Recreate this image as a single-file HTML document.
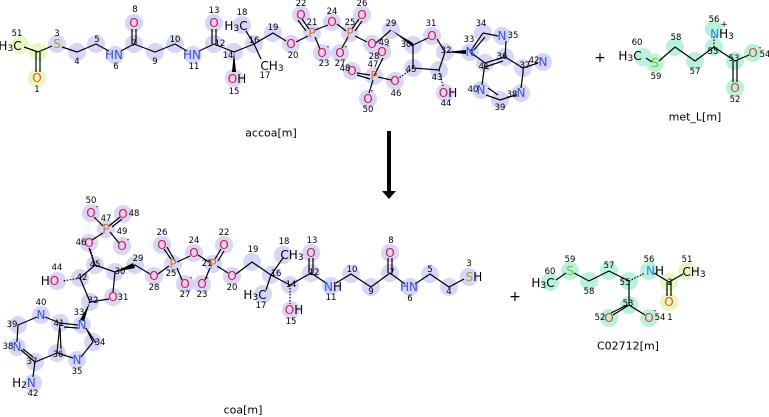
<!DOCTYPE html>
<html><head><meta charset="utf-8"><style>
body{margin:0;background:#fff;}
svg{display:block;font-family:"DejaVu Sans","Liberation Sans",sans-serif;}
.h{fill:#d6d6f8}.g{fill:#b6f3da}.y{fill:#e6f7c0}
text{dominant-baseline:central;text-anchor:middle}
.e{font-size:12px;fill:#000}.O{font-size:12px;fill:#e8103c}.N{font-size:12px;fill:#3050f8}.S{font-size:12px;fill:#a8a030}.P{font-size:12px;fill:#e07018}
.n{font-size:8.5px;fill:#000}
.b{stroke:#000;stroke-width:1.2;fill:none}
.lbl{font-size:11px;fill:#000}
</style></head><body>
<svg width="769" height="417" viewBox="0 0 769 417">
<g>
<circle class="y" cx="20" cy="45" r="9"/><circle class="y" cx="38" cy="52" r="9"/><circle class="y" cx="37" cy="78" r="9"/>
<circle class="h" cx="57" cy="44" r="9"/><circle class="h" cx="77" cy="52" r="9"/><circle class="h" cx="96" cy="44" r="9"/>
<circle class="h" cx="115" cy="55" r="9"/><circle class="h" cx="134" cy="44" r="9"/><circle class="h" cx="134" cy="23" r="9"/>
<circle class="h" cx="155" cy="52" r="9"/><circle class="h" cx="175" cy="44" r="9"/><circle class="h" cx="193" cy="55" r="9"/>
<circle class="h" cx="214" cy="44" r="9"/><circle class="h" cx="214" cy="23" r="9"/><circle class="h" cx="234" cy="52" r="9"/>
<circle class="h" cx="234" cy="78" r="9"/><circle class="h" cx="254" cy="44" r="9"/><circle class="h" cx="242" cy="25" r="9"/>
<circle class="h" cx="273" cy="33" r="9"/><circle class="h" cx="291" cy="44" r="9"/><circle class="h" cx="301" cy="15" r="9"/>
<circle class="h" cx="312" cy="33" r="9"/><circle class="h" cx="322" cy="53" r="9"/><circle class="h" cx="332" cy="22" r="9"/>
<circle class="h" cx="350" cy="33" r="9"/><circle class="h" cx="362" cy="15" r="9"/><circle class="h" cx="340" cy="53" r="9"/>
<circle class="h" cx="372" cy="44" r="9"/><circle class="h" cx="391" cy="30" r="9"/><circle class="h" cx="413" cy="45" r="9"/>
<circle class="h" cx="432" cy="36" r="9"/><circle class="h" cx="445" cy="52" r="9"/><circle class="h" cx="439" cy="70" r="9"/>
<circle class="h" cx="445" cy="93" r="9"/><circle class="h" cx="413" cy="68" r="9"/><circle class="h" cx="395" cy="81" r="9"/>
<circle class="h" cx="374" cy="76" r="9"/><circle class="h" cx="352" cy="71" r="9"/><circle class="h" cx="382" cy="52" r="9"/>
<circle class="h" cx="368" cy="99" r="9"/><circle class="h" cx="470" cy="52" r="9"/><circle class="h" cx="483" cy="33" r="9"/>
<circle class="h" cx="502" cy="36" r="9"/><circle class="h" cx="505" cy="57" r="9"/><circle class="h" cx="485" cy="63" r="9"/>
<circle class="h" cx="481" cy="90" r="9"/><circle class="h" cx="500" cy="100" r="9"/><circle class="h" cx="521" cy="93" r="9"/>
<circle class="h" cx="523" cy="68" r="9"/><circle class="h" cx="543" cy="62" r="9"/>
</g>
<g>
<circle class="g" cx="643" cy="57" r="9"/><circle class="g" cx="655" cy="63" r="9"/><circle class="g" cx="675" cy="47" r="9"/>
<circle class="g" cx="695" cy="61" r="9"/><circle class="g" cx="714" cy="47" r="9"/><circle class="g" cx="714" cy="29" r="9"/>
<circle class="g" cx="735" cy="61" r="9"/><circle class="g" cx="753" cy="53" r="9"/><circle class="g" cx="735" cy="88" r="9"/>
</g>
<g>
<circle class="h" cx="91" cy="213" r="9"/><circle class="h" cx="106" cy="229" r="9"/><circle class="h" cx="123" cy="214" r="9"/>
<circle class="h" cx="89" cy="243" r="9"/><circle class="h" cx="122" cy="246" r="9"/><circle class="h" cx="95" cy="265" r="9"/>
<circle class="h" cx="115" cy="272" r="9"/><circle class="h" cx="113" cy="297" r="9"/><circle class="h" cx="90" cy="302" r="9"/>
<circle class="h" cx="80" cy="278" r="9"/><circle class="h" cx="57" cy="281" r="9"/><circle class="h" cx="135" cy="265" r="9"/>
<circle class="h" cx="154" cy="276" r="9"/><circle class="h" cx="173" cy="264" r="9"/><circle class="h" cx="162" cy="245" r="9"/>
<circle class="h" cx="185" cy="284" r="9"/><circle class="h" cx="194" cy="253" r="9"/><circle class="h" cx="213" cy="264" r="9"/>
<circle class="h" cx="224" cy="245" r="9"/><circle class="h" cx="202" cy="284" r="9"/><circle class="h" cx="232" cy="276" r="9"/>
<circle class="h" cx="82" cy="325" r="9"/><circle class="h" cx="93" cy="342" r="9"/><circle class="h" cx="77" cy="360" r="9"/>
<circle class="h" cx="57" cy="353" r="9"/><circle class="h" cx="60" cy="323" r="9"/><circle class="h" cx="41" cy="315" r="9"/>
<circle class="h" cx="18" cy="325" r="9"/><circle class="h" cx="17" cy="347" r="9"/><circle class="h" cx="35" cy="362" r="9"/>
<circle class="h" cx="33" cy="383" r="9"/>
<circle class="h" cx="252" cy="262" r="9"/><circle class="h" cx="271" cy="275" r="9"/><circle class="h" cx="283" cy="255" r="9"/>
<circle class="h" cx="263" cy="294" r="9"/><circle class="h" cx="290" cy="285" r="9"/><circle class="h" cx="291" cy="310" r="9"/>
<circle class="h" cx="311" cy="273" r="9"/><circle class="h" cx="311" cy="253" r="9"/><circle class="h" cx="331" cy="286" r="9"/>
<circle class="h" cx="351" cy="274" r="9"/><circle class="h" cx="371" cy="287" r="9"/><circle class="h" cx="390" cy="273" r="9"/>
<circle class="h" cx="390" cy="253" r="9"/><circle class="h" cx="410" cy="287" r="9"/><circle class="h" cx="430" cy="274" r="9"/>
<circle class="h" cx="449" cy="287" r="9"/><circle class="h" cx="469" cy="277" r="9"/>
</g>
<g>
<circle class="g" cx="550" cy="282" r="9"/><circle class="g" cx="570" cy="271" r="9"/><circle class="g" cx="589" cy="281" r="9"/>
<circle class="g" cx="609" cy="271" r="9"/><circle class="g" cx="629" cy="281" r="9"/><circle class="g" cx="649" cy="271" r="9"/>
<circle class="y" cx="669" cy="282" r="9"/><circle class="y" cx="687" cy="271" r="9"/><circle class="y" cx="669" cy="302" r="9"/>
<circle class="g" cx="629" cy="305" r="9"/><circle class="g" cx="609" cy="318" r="9"/><circle class="g" cx="649" cy="318" r="9"/>
</g>

<path class="b" d="M24 47L38 52M36 52V72M40 52V72M38 52L52 46M62 47L77 52L96 44L109 51M121 51L134 44M132 44V29M136 44V29M134 44L155 52L175 44L187 51M199 51L214 44M212 44V29M216 44V29M214 44L234 52L254 44M254 44L246 31M254 44L261 59M254 44L273 33L286 41M296 42L308 36M306 31L298 20M309 29L302 19M315 37L320 49M315 30L328 25M337 24L346 31M352 29L359 19M355 31L362 21M348 37L342 48M355 36L367 42M376 43L391 30M413 45L428 38M437 39L445 52L439 70L413 68L413 45M374 76L383 58M370 75L357 73M370 79L357 75M373 80L369 93M378 77L391 80M483 33L498 36M505 57L485 63L470 52M506 41L505 57M485 63L482 85M486 95L500 100L516 95M523 73L523 68L505 57M523 68L538 63M470 52L483 33M474 50L485 37M485 67L503 61M521 88L523 73M488 88L498 95"/>
<polygon points="391,30 413,43 413,47" fill="#000"/>
<polygon points="445,52 466,50 466,54" fill="#000"/>
<polygon points="234,52 232,72 236,72" fill="#000"/>
<path class="b" stroke-dasharray="1.5 1.5" d="M413 68L399 78M439 70L443 86"/>
<path class="b" d="M646 58L652 62M659 61L675 47L695 61L714 47L735 61L749 55M733 61V82M737 61V82"/>
<path class="b" stroke-dasharray="1.5 1.5" d="M714 47V36"/>
<path class="b" d="M94 217L103 226M109 226L120 217M112 227L122 219M103 233L92 240M110 232L119 243M89 248L95 265M95 265L115 272L113 292M109 299L90 302L80 278L95 265M115 272L135 265L150 274M158 274L169 266M171 259L164 249M175 261L167 247M177 268L182 280M177 262L190 256M198 255L209 262M215 259L221 249M218 261L224 251M210 268L205 280M217 266L228 273M236 274L252 262L271 275L283 258M271 275L266 290M271 275L290 285L311 273L326 283M309 273V258M313 273V258M311 273L290 285M336 283L351 274L371 287L390 273L405 284M388 273V258M392 273V258M415 284L430 274L449 287L464 279M86 328L93 342L81 357M73 358L57 353L60 323L78 325M60 323L45 317M37 317L18 325L17 342M21 350L35 362L57 353M35 362L33 377M64 327L78 328M88 331L96 343M60 328L61 349M23 349L33 357"/>
<polygon points="90,302 80,320 84,321" fill="#000"/>
<polygon points="115,272 133,263 135,268" fill="#000"/>
<path class="b" stroke-dasharray="1.5 1.5" d="M95 265L90 248M80 278L63 281M290 285V304"/>
<path class="b" d="M556 280L566 273M574 273L589 281L609 271L629 281M629 281V305L613 315M629 305L645 315M627 305L611 313M654 273L669 282L683 274M667 282V296M671 282V296"/>
<path class="b" stroke-dasharray="1.5 1.5" d="M629 281L645 273"/>

<rect x="387" y="131" width="4" height="61" fill="#000"/>
<polygon points="382,191 396,191 389,199" fill="#000"/>

<text class="e" x="10" y="46">H<tspan font-size="9" dy="3">3</tspan><tspan dy="-3">C</tspan></text>
<text class="O" x="37" y="78" style="fill:#f05010">O</text>
<text class="S" x="57" y="44">S</text>
<text class="N" x="114" y="55">HN</text>
<text class="O" x="134" y="23">O</text>
<text class="N" x="192" y="55">HN</text>
<text class="O" x="214" y="23">O</text>
<text class="e" x="237" y="79"><tspan fill="#e8103c">O</tspan>H</text>
<text class="e" x="236" y="26">H<tspan font-size="9" dy="3">3</tspan><tspan dy="-3">C</tspan></text>
<text class="e" x="272" y="66">CH<tspan font-size="9" dy="3">3</tspan></text>
<text class="O" x="291" y="44">O</text><text class="O" x="301" y="15">O</text><text class="P" x="312" y="33">P</text>
<text class="O" x="322" y="53">O</text><text class="O" x="332" y="22">O</text><text class="P" x="350" y="33">P</text>
<text class="O" x="362" y="15">O</text><text class="O" x="340" y="53">O</text><text class="O" x="372" y="44">O</text>
<text class="O" x="432" y="36">O</text><text class="e" x="448" y="93"><tspan fill="#e8103c">O</tspan>H</text>
<text class="O" x="395" y="81">O</text><text class="P" x="374" y="76">P</text><text class="O" x="352" y="71">O</text>
<text class="O" x="382" y="52">O</text><text class="O" x="368" y="99">O</text>
<text class="n" x="328" y="47">-</text><text class="n" x="346" y="47">-</text><text class="n" x="388" y="46">-</text><text class="n" x="372" y="91">-</text>
<text class="N" x="470" y="52">N</text><text class="N" x="502" y="36">N</text><text class="N" x="481" y="90">N</text>
<text class="N" x="521" y="93">N</text><text class="N" x="543" y="62">N</text>
<text class="n" x="17" y="34">51</text><text class="n" x="37" y="90">1</text><text class="n" x="57" y="34">3</text><text class="n" x="77" y="62">4</text>
<text class="n" x="97" y="40">5</text><text class="n" x="116" y="67">6</text><text class="n" x="134" y="44">7</text><text class="n" x="135" y="10">8</text>
<text class="n" x="155" y="62">9</text><text class="n" x="175" y="40">10</text><text class="n" x="194" y="67">11</text><text class="n" x="220" y="44">12</text>
<text class="n" x="214" y="11">13</text><text class="n" x="228" y="56">14</text><text class="n" x="234" y="92">15</text><text class="n" x="254" y="41">16</text>
<text class="n" x="265" y="76">17</text><text class="n" x="242" y="13">18</text><text class="n" x="273" y="28">19</text><text class="n" x="293" y="56">20</text>
<text class="n" x="312" y="23">21</text><text class="n" x="301" y="4">22</text><text class="n" x="324" y="64">23</text><text class="n" x="332" y="12">24</text>
<text class="n" x="350" y="23">25</text><text class="n" x="362" y="4">26</text><text class="n" x="340" y="64">27</text><text class="n" x="374" y="57">28</text>
<text class="n" x="391" y="24">29</text><text class="n" x="406" y="45">30</text><text class="n" x="431" y="24">31</text><text class="n" x="446" y="51">32</text>
<text class="n" x="469" y="40">33</text><text class="n" x="481" y="24">34</text><text class="n" x="513" y="36">35</text><text class="n" x="502" y="57">36</text>
<text class="n" x="525" y="66">37</text><text class="n" x="512" y="95">38</text><text class="n" x="500" y="108">39</text><text class="n" x="473" y="90">40</text>
<text class="n" x="484" y="67">41</text><text class="n" x="534" y="61">42</text><text class="n" x="437" y="78">43</text><text class="n" x="446" y="104">44</text>
<text class="n" x="411" y="70">45</text><text class="n" x="396" y="94">46</text><text class="n" x="373" y="65">47</text><text class="n" x="345" y="69">48</text>
<text class="n" x="384" y="43">49</text><text class="n" x="368" y="110">50</text>
<text class="lbl" x="271" y="133">accoa[m]</text>
<text class="e" x="600" y="58" style="font-size:14px">+</text>
<text class="e" x="630" y="56">H<tspan font-size="9" dy="3">3</tspan><tspan dy="-3">C</tspan></text>
<text class="S" x="655" y="63" style="fill:#80c020">S</text>
<text class="e" x="722" y="34"><tspan fill="#3080f0">N</tspan>H<tspan font-size="9" dy="3">3</tspan></text>
<text class="n" x="724" y="25">+</text>
<text class="O" x="753" y="53" style="fill:#e04030">O</text><text class="O" x="735" y="88" style="fill:#e04030">O</text>
<text class="n" x="637" y="43">60</text><text class="n" x="656" y="77">59</text><text class="n" x="676" y="38">58</text><text class="n" x="695" y="72">57</text>
<text class="n" x="713" y="52">55</text><text class="n" x="714" y="20">56</text><text class="n" x="734" y="59">53</text><text class="n" x="765" y="55">54</text>
<text class="n" x="760" y="48">-</text><text class="n" x="735" y="100">52</text>
<text class="lbl" x="695" y="117">met_L[m]</text>

<text class="O" x="91" y="213">O</text><text class="P" x="106" y="229">P</text><text class="O" x="123" y="214">O</text>
<text class="O" x="89" y="243">O</text><text class="O" x="122" y="246">O</text><text class="O" x="113" y="297">O</text>
<text class="n" x="97" y="207">-</text><text class="n" x="128" y="240">-</text><text class="n" x="191" y="278">-</text><text class="n" x="207" y="278">-</text>
<text class="e" x="50" y="281">H<tspan fill="#e8103c">O</tspan></text>
<text class="O" x="154" y="276">O</text><text class="P" x="173" y="264">P</text><text class="O" x="162" y="245">O</text>
<text class="O" x="185" y="284">O</text><text class="O" x="194" y="253">O</text><text class="P" x="213" y="264">P</text>
<text class="O" x="224" y="245">O</text><text class="O" x="202" y="284">O</text><text class="O" x="232" y="276">O</text>
<text class="N" x="82" y="325">N</text><text class="N" x="77" y="360">N</text><text class="N" x="41" y="315">N</text>
<text class="N" x="17" y="347">N</text>
<text class="e" x="24" y="383">H<tspan font-size="9" dy="3">2</tspan><tspan dy="-3" fill="#3050f8">N</tspan></text>
<text class="e" x="292" y="255">CH<tspan font-size="9" dy="3">3</tspan></text>
<text class="e" x="255" y="295">H<tspan font-size="9" dy="3">3</tspan><tspan dy="-3">C</tspan></text>
<text class="e" x="294" y="310"><tspan fill="#e8103c">O</tspan>H</text>
<text class="O" x="311" y="253">O</text><text class="e" x="333" y="287"><tspan fill="#3050f8">N</tspan>H</text>
<text class="O" x="390" y="253">O</text><text class="N" x="409" y="287">HN</text>
<text class="e" x="474" y="277"><tspan fill="#a8a030">S</tspan>H</text>
<text class="n" x="91" y="201">50</text><text class="n" x="106" y="219">47</text><text class="n" x="134" y="214">48</text>
<text class="n" x="81" y="243">46</text><text class="n" x="122" y="232">49</text><text class="n" x="95" y="265">45</text>
<text class="n" x="120" y="272">30</text><text class="n" x="123" y="298">31</text><text class="n" x="93" y="301">32</text>
<text class="n" x="82" y="278">42</text><text class="n" x="57" y="268">44</text><text class="n" x="138" y="259">29</text>
<text class="n" x="154" y="288">28</text><text class="n" x="171" y="274">25</text><text class="n" x="162" y="233">26</text>
<text class="n" x="185" y="295">27</text><text class="n" x="194" y="241">24</text><text class="n" x="207" y="264">21</text>
<text class="n" x="224" y="233">22</text><text class="n" x="202" y="295">23</text><text class="n" x="232" y="288">20</text>
<text class="n" x="79" y="313">33</text><text class="n" x="100" y="343">34</text><text class="n" x="77" y="372">35</text>
<text class="n" x="58" y="355">36</text><text class="n" x="59" y="324">41</text><text class="n" x="41" y="303">40</text>
<text class="n" x="12" y="325">39</text><text class="n" x="8" y="347">38</text><text class="n" x="32" y="362">37</text>
<text class="n" x="33" y="394">42</text>
<text class="n" x="253" y="250">19</text><text class="n" x="276" y="274">16</text><text class="n" x="284" y="242">18</text>
<text class="n" x="261" y="306">17</text><text class="n" x="291" y="285">14</text><text class="n" x="291" y="322">15</text>
<text class="n" x="314" y="273">12</text><text class="n" x="312" y="241">13</text><text class="n" x="331" y="298">11</text>
<text class="n" x="352" y="270">10</text><text class="n" x="371" y="292">9</text><text class="n" x="392" y="273">7</text>
<text class="n" x="391" y="241">8</text><text class="n" x="410" y="299">6</text><text class="n" x="430" y="270">5</text>
<text class="n" x="449" y="292">4</text><text class="n" x="469" y="264">3</text>
<text class="lbl" x="243" y="410">coa[m]</text>
<text class="e" x="515" y="297" style="font-size:14px">+</text>

<text class="e" x="543" y="283">H<tspan font-size="9" dy="3">3</tspan><tspan dy="-3">C</tspan></text>
<text class="S" x="570" y="271" style="fill:#80c020">S</text>
<text class="e" x="655" y="271"><tspan fill="#3080f0">N</tspan>H</text>
<text class="e" x="694" y="272">CH<tspan font-size="9" dy="3">3</tspan></text>
<text class="O" x="669" y="302" style="fill:#f05010">O</text>
<text class="O" x="609" y="318" style="fill:#e04030">O</text><text class="O" x="649" y="318" style="fill:#e04030">O</text>
<text class="n" x="655" y="311">-</text>
<text class="n" x="570" y="260">59</text><text class="n" x="550" y="272">60</text><text class="n" x="589" y="292">58</text>
<text class="n" x="609" y="266">57</text><text class="n" x="625" y="283">55</text><text class="n" x="649" y="260">56</text>
<text class="n" x="670" y="283">2</text><text class="n" x="687" y="260">51</text><text class="n" x="628" y="304">53</text>
<text class="n" x="600" y="318">52</text><text class="n" x="660" y="318">54</text><text class="n" x="670" y="318">1</text>
<text class="lbl" x="628" y="346">C02712[m]</text>
</svg>
</body></html>
